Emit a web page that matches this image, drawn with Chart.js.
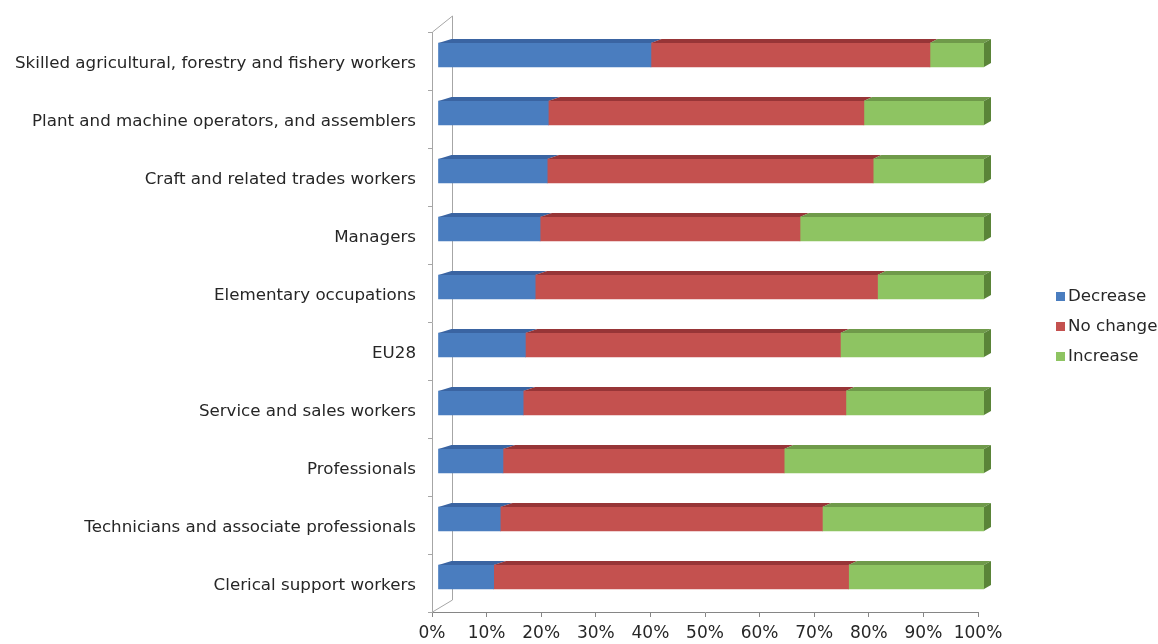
<!DOCTYPE html>
<html>
<head>
<meta charset="utf-8">
<script src="https://cdn.jsdelivr.net/npm/chart.js@4"></script>
<style>
  html, body { margin: 0; padding: 0; background: #fff; }
  #wrap { width: 1158px; height: 644px; }
</style>
</head>
<body>
<div id="wrap"><canvas id="c"></canvas></div>
<script>
// ── DATA ────────────────────────────────────────────────────
const categories = [
  'Skilled agricultural, forestry and fishery workers',
  'Plant and machine operators, and assemblers',
  'Craft and related trades workers',
  'Managers',
  'Elementary occupations',
  'EU28',
  'Service and sales workers',
  'Professionals',
  'Technicians and associate professionals',
  'Clerical support workers'
];
const decrease = [39.0, 20.2, 20.0, 18.7, 17.8, 16.0, 15.6, 11.9, 11.4, 10.2];
const noChange = [51.1, 57.8, 59.7, 47.6, 62.7, 57.7, 59.1, 51.5, 59.0, 65.0];
const increase = [9.9, 22.0, 20.3, 33.7, 19.5, 26.3, 25.3, 36.6, 29.6, 24.8];
const seriesNames = ['Decrease', 'No change', 'Increase'];

// ── STYLE ───────────────────────────────────────────────────
const FONT = 'DejaVu Sans, Verdana, sans-serif';
const front = ['#4a7dbf', '#c4514f', '#8ec462'];
const topFace = ['#3a64a2', '#973537', '#6f9a4a'];
const sideFace = '#5a8438';
const SHIFT_X = 6, SHIFT_Y = -6;   // bars sit a bit behind the front axis plane
const DEPTH_Y = 4;

// 3D look: frame walls + bevels on each bar
const depth3d = {
  id: 'depth3d',
  beforeDatasetsDraw(chart) {
    const { ctx, chartArea: a } = chart;
    ctx.save();
    ctx.strokeStyle = '#a6a6a6';
    ctx.lineWidth = 1;
    ctx.beginPath();
    ctx.moveTo(a.left + 0.5, a.top);
    ctx.lineTo(a.left + 20.5, a.top - 16);
    ctx.lineTo(a.left + 20.5, a.bottom - 12);
    ctx.lineTo(a.left + 0.5, a.bottom);
    ctx.stroke();
    ctx.restore();

    ctx.save();
    ctx.translate(SHIFT_X, SHIFT_Y);
  },
  afterDatasetsDraw(chart) {
    const { ctx, chartArea: a } = chart;
    const w = a.right - a.left;
    const dxAt = x => 13 - 6 * (x - a.left) / w;
    const n = chart.data.datasets.length;
    chart.data.datasets.forEach((ds, di) => {
      const meta = chart.getDatasetMeta(di);
      meta.data.forEach(bar => {
        const p = bar.getProps(['x', 'y', 'base', 'height'], true);
        const x0 = Math.min(p.x, p.base), x1 = Math.max(p.x, p.base);
        const top = p.y - p.height / 2, bot = p.y + p.height / 2;
        ctx.fillStyle = topFace[di];
        ctx.beginPath();
        ctx.moveTo(x0, top);
        ctx.lineTo(x0 + dxAt(x0), top - DEPTH_Y);
        ctx.lineTo(x1 + dxAt(x1), top - DEPTH_Y);
        ctx.lineTo(x1, top);
        ctx.closePath();
        ctx.fill();
        if (di === n - 1) {
          const d = dxAt(x1);
          ctx.fillStyle = sideFace;
          ctx.beginPath();
          ctx.moveTo(x1, top);
          ctx.lineTo(x1 + d, top - DEPTH_Y);
          ctx.lineTo(x1 + d, bot - DEPTH_Y);
          ctx.lineTo(x1, bot);
          ctx.closePath();
          ctx.fill();
        }
      });
    });
    ctx.restore();
  },
  afterDraw(chart) {
    // legend on the right
    const { ctx } = chart;
    ctx.save();
    ctx.font = '16.7px ' + FONT;
    ctx.textBaseline = 'middle';
    seriesNames.forEach((name, i) => {
      const y = 297 + i * 30;
      ctx.fillStyle = front[i];
      ctx.fillRect(1056, y - 5, 9, 9);
      ctx.fillStyle = '#262626';
      ctx.fillText(name, 1068, y);
    });
    ctx.restore();
  }
};

new Chart(document.getElementById('c'), {
  type: 'bar',
  data: {
    labels: categories,
    datasets: [
      { label: seriesNames[0], data: decrease, backgroundColor: front[0] },
      { label: seriesNames[1], data: noChange, backgroundColor: front[1] },
      { label: seriesNames[2], data: increase, backgroundColor: front[2] }
    ]
  },
  options: {
    indexAxis: 'y',
    responsive: true,
    maintainAspectRatio: false,
    animation: false,
    layout: { padding: { top: 32, right: 180, left: 0, bottom: 0 } },
    datasets: { bar: { barThickness: 24, borderWidth: 0 } },
    plugins: { legend: { display: false }, tooltip: { enabled: false } },
    scales: {
      x: {
        stacked: true,
        min: 0, max: 100,
        afterFit: s => { s.height = 32; },
        border: { color: '#868686' },
        grid: { drawOnChartArea: false, tickLength: 5, color: '#868686' },
        ticks: {
          stepSize: 10,
          padding: 6,
          autoSkip: false,
          maxRotation: 0,
          minRotation: 0,
          color: '#262626',
          font: { family: FONT, size: 17 },
          callback: v => v + '%'
        }
      },
      y: {
        stacked: true,
        afterFit: s => { s.width = 432; },
        border: { color: '#a6a6a6' },
        grid: { drawOnChartArea: false, tickLength: 4, color: '#a6a6a6', offset: true },
        ticks: {
          padding: 12,
          labelOffset: 3,
          color: '#262626',
          font: { family: FONT, size: 16.7 }
        }
      }
    }
  },
  plugins: [depth3d]
});
</script>
</body>
</html>
